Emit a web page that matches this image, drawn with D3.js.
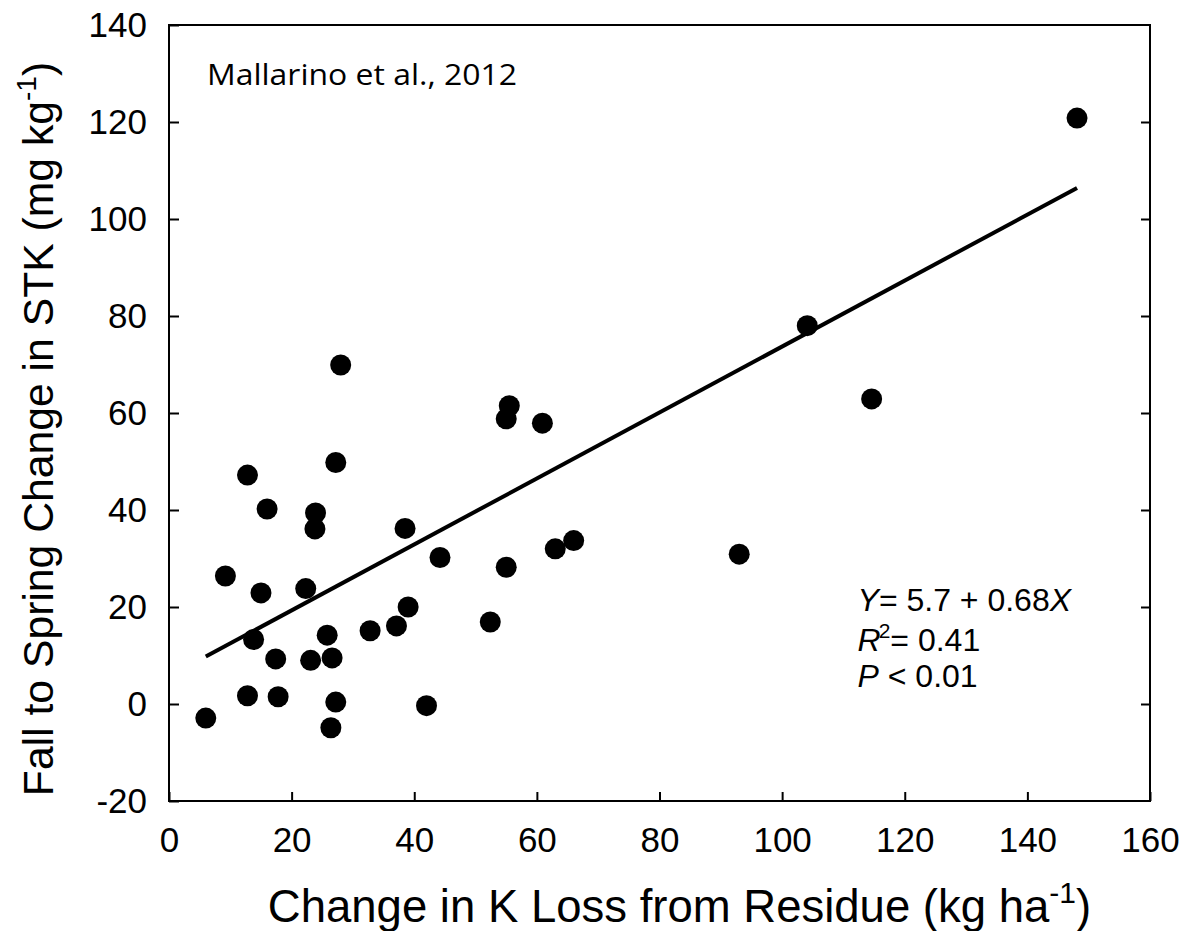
<!DOCTYPE html>
<html>
<head>
<meta charset="utf-8">
<script src="https://cdn.jsdelivr.net/npm/d3@7"></script>
<style>
  body { margin: 0; background: #fff; }
  svg text { fill: #000; }
</style>
</head>
<body>
<div id="chart"></div>
<script>
const WIDTH = 1186
const HEIGHT = 931
const MARGIN = { left: 169, right: 36, top: 25, bottom: 130 }

// change in K loss from residue (kg/ha) and fall-to-spring STK change (mg/kg)
const kLoss = [6.0, 9.2, 12.8, 12.8, 13.8, 15.0, 16.0, 17.4, 17.8, 22.3, 23.1, 23.9, 23.8, 25.8,
  26.6, 27.2, 27.2, 26.4, 28.0, 32.8, 37.1, 39.0, 38.5, 44.2, 42.0, 52.4, 55.0, 55.5, 55.0,
  60.9, 63.0, 66.0, 93.0, 104.1, 114.6, 148.1]
const stkChange = [-2.9, 26.4, 47.2, 1.7, 13.3, 22.9, 40.2, 9.3, 1.5, 23.8, 9.0, 39.4, 36.1, 14.2,
  9.5, 49.8, 0.4, -4.9, 69.9, 15.1, 16.1, 20.0, 36.2, 30.2, -0.35, 16.9, 28.2, 61.5, 58.8,
  57.9, 32.0, 33.7, 30.9, 78.0, 62.9, 120.8]

const xTicks = [0, 20, 40, 60, 80, 100, 120, 140, 160]
const yTicks = [-20, 0, 20, 40, 60, 80, 100, 120, 140]

const fitIntercept = 5.7
const fitSlope = 0.68

const points = kLoss.map((x, i) => ({ x, y: stkChange[i] }))

const innerW = WIDTH - MARGIN.left - MARGIN.right
const innerH = HEIGHT - MARGIN.top - MARGIN.bottom

const svg = d3.select('#chart')
  .append('svg')
    .attr('width', WIDTH)
    .attr('height', HEIGHT)
    .style('font-family', '"Liberation Sans", Arial, sans-serif')

const graph = svg.append('g')
  .attr('transform', `translate(${MARGIN.left},${MARGIN.top})`)

const xScale = d3.scaleLinear().domain([0, 160]).range([0, innerW])
const yScale = d3.scaleLinear().domain([-20, 140]).range([innerH, 0])

const plain = d => String(d)   // keep the ascii hyphen for negatives

// axes, ticks pointing inward
const xAxis = graph.append('g')
  .attr('transform', `translate(0,${innerH})`)
  .call(d3.axisBottom(xScale).tickValues(xTicks).tickFormat(plain).tickSizeInner(-9).tickSizeOuter(0).tickPadding(26))

const yAxis = graph.append('g')
  .call(d3.axisLeft(yScale).tickValues(yTicks).tickFormat(plain).tickSizeInner(-10).tickSizeOuter(0).tickPadding(22))

const yAxisRight = graph.append('g')
  .attr('transform', `translate(${innerW},0)`)
  .call(d3.axisRight(yScale).tickValues(yTicks.slice(1, -1)).tickSizeInner(-9).tickSizeOuter(0).tickFormat(''))

;[xAxis, yAxis, yAxisRight].forEach(ax => {
  ax.select('.domain').remove()
  ax.selectAll('line').attr('stroke', '#000').attr('stroke-width', 2)
  ax.selectAll('text').attr('font-size', 35).attr('font-family', '"Liberation Sans", Arial, sans-serif').attr('fill', '#000')
})

graph.append('rect')
  .attr('x', 0)
  .attr('y', 0)
  .attr('width', innerW)
  .attr('height', innerH)
  .attr('fill', 'none')
  .attr('stroke', '#000')
  .attr('stroke-width', 2)

// regression line over the range of the data
const [xMin, xMax] = d3.extent(kLoss)
const line = d3.line()
  .x(d => xScale(d))
  .y(d => yScale(fitIntercept + fitSlope * d))

graph.append('path')
  .datum([xMin, xMax])
  .attr('d', line)
  .attr('fill', 'none')
  .attr('stroke', '#000')
  .attr('stroke-width', 4)

graph.selectAll('circle.pt')
  .data(points)
  .join('circle')
    .attr('class', 'pt')
    .attr('cx', d => xScale(d.x))
    .attr('cy', d => yScale(d.y))
    .attr('r', 10.5)
    .attr('fill', '#000')

// source label
graph.append('text')
  .attr('x', 38)
  .attr('y', 60)
  .attr('font-family', '"Open Sans", Lato, sans-serif')
  .attr('font-size', 30)
  .attr('textLength', 310)
  .attr('lengthAdjust', 'spacingAndGlyphs')
  .text('Mallarino et al., 2012')

// stats block
const stats = graph.append('g')
  .attr('font-size', 32)
  .attr('transform', `translate(${xScale(112.3)},0)`)

const s1 = stats.append('text').attr('y', yScale(19.2))
s1.append('tspan').attr('font-style', 'italic').text('Y')
s1.append('tspan').text('= 5.7 + 0.68')
s1.append('tspan').attr('font-style', 'italic').text('X')

const s2 = stats.append('text').attr('y', yScale(10.9))
s2.append('tspan').attr('font-style', 'italic').text('R')
s2.append('tspan').attr('font-size', 21).attr('dy', -13).attr('dx', -2).text('2')
s2.append('tspan').attr('dy', 13).text('= 0.41')

const s3 = stats.append('text').attr('y', yScale(3.6))
s3.append('tspan').attr('font-style', 'italic').text('P')
s3.append('tspan').text(' < 0.01')

// axis titles
const xTitle = svg.append('text')
  .attr('x', MARGIN.left + innerW / 2 + 20)
  .attr('y', 922)
  .attr('text-anchor', 'middle')
  .attr('font-size', 45.5)
xTitle.append('tspan').text('Change in K Loss from Residue (kg ha')
xTitle.append('tspan').attr('font-size', 30).attr('dy', -19).text('-1')
xTitle.append('tspan').attr('dy', 19).text(')')

const yTitle = svg.append('text')
  .attr('transform', `translate(53,${MARGIN.top + innerH / 2 + 16}) rotate(-90)`)
  .attr('text-anchor', 'middle')
  .attr('font-size', 42.7)
yTitle.append('tspan').text('Fall to Spring Change in STK (mg kg')
yTitle.append('tspan').attr('font-size', 28).attr('dy', -17).text('-1')
yTitle.append('tspan').attr('dy', 17).text(')')
</script>
</body>
</html>
